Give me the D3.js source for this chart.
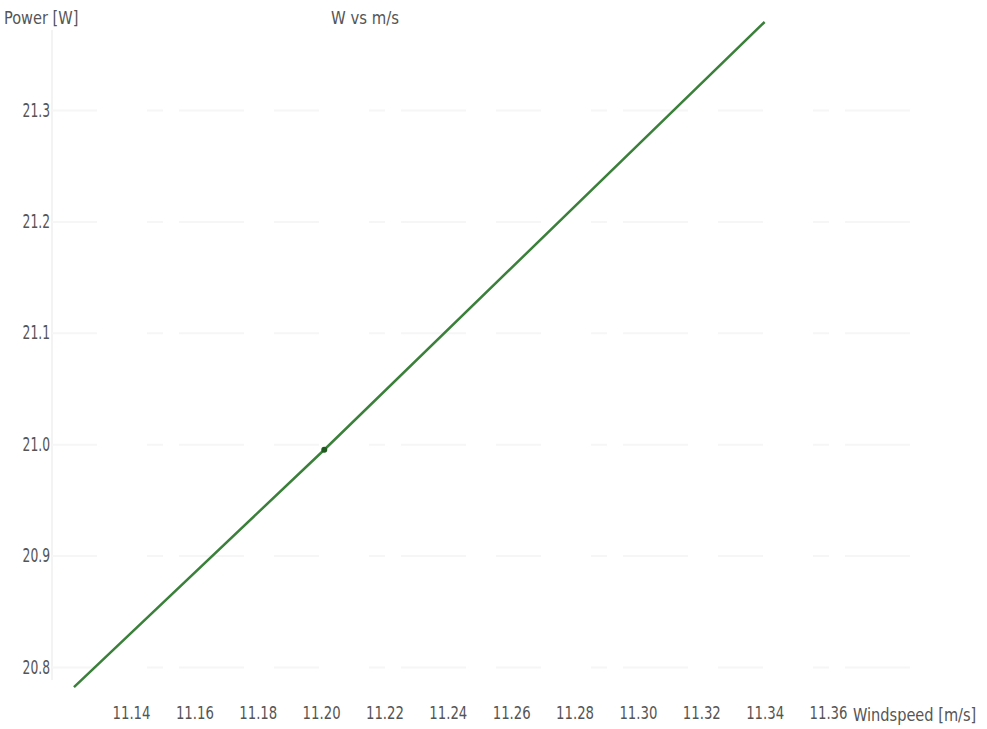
<!DOCTYPE html>
<html lang="en">
<head>
<meta charset="utf-8">
<title>W vs m/s</title>
<script src="https://d3js.org/d3.v7.min.js"></script>
<style>
  body { margin: 0; background: #fff; }
  svg text { font-family: "DejaVu Sans Condensed", "DejaVu Sans", sans-serif; fill: #555; }
</style>
</head>
<body>
<div id="chart"></div>
<script>
	// data
	var windspeed = [11.122, 11.201, 11.340];
	var power = [20.782, 20.995, 21.379];
	var xTicks = [11.14, 11.16, 11.18, 11.20, 11.22, 11.24, 11.26, 11.28, 11.30, 11.32, 11.34, 11.36];
	var yTicks = [20.8, 20.9, 21.0, 21.1, 21.2, 21.3];
	var markedPoint = 1; // only this point shows a dot

	var width = 987, height = 729;
	var svg = d3.select("#chart").append("svg")
		.attr("width", width)
		.attr("height", height);

	var x = d3.scaleLinear().domain([11.14, 11.36]).range([131, 828]);
	var y = d3.scaleLinear().domain([20.8, 21.3]).range([667, 110]);

	// faint y axis line
	svg.append("line")
		.attr("x1", 52).attr("x2", 52)
		.attr("y1", 30).attr("y2", 680)
		.attr("stroke", "#f3f3f3")
		.attr("stroke-width", 2);

	// faint dashed gridlines
	svg.append("g")
		.selectAll("line")
		.data(yTicks)
		.enter()
		.append("line")
		.attr("x1", 52).attr("x2", 912)
		.attr("y1", function(d) { return y(d) + 0.5; })
		.attr("y2", function(d) { return y(d) + 0.5; })
		.attr("stroke", "#f6f6f6")
		.attr("stroke-width", 2)
		.attr("stroke-dasharray", "45,50,16,16,65,30");

	// y axis labels (narrow, tall glyphs as in the picture)
	var yAxis = d3.axisLeft(y).tickValues(yTicks).tickFormat(d3.format(".1f")).tickSize(0).tickPadding(0);
	svg.append("g")
		.attr("transform", "translate(50,0)")
		.call(yAxis)
		.call(function(g) { g.select(".domain").remove(); })
		.selectAll("text")
		.attr("font-size", 19)
		.attr("font-family", null)
		.attr("transform", "scale(0.72,1)");

	// x axis labels
	var xAxis = d3.axisBottom(x).tickValues(xTicks).tickFormat(d3.format(".2f")).tickSize(0).tickPadding(0);
	svg.append("g")
		.attr("transform", "translate(0,706)")
		.call(xAxis)
		.call(function(g) { g.select(".domain").remove(); })
		.selectAll("text")
		.attr("font-size", 18)
		.attr("font-family", null)
		.attr("transform", "scale(0.82,1)");

	svg.append("text")
		.attr("transform", "translate(853,721) scale(0.9,1)")
		.attr("font-size", 18)
		.text("Windspeed [m/s]");

	svg.append("text")
		.attr("transform", "translate(4,24) scale(0.9,1)")
		.attr("font-size", 18)
		.text("Power [W]");

	svg.append("text")
		.attr("transform", "translate(331,24) scale(0.92,1)")
		.attr("font-size", 18)
		.text("W vs m/s");

	// the series
	var pts = windspeed.map(function(v, i) { return [v, power[i]]; });
	var line = d3.line()
		.x(function(d) { return x(d[0]); })
		.y(function(d) { return y(d[1]); });

	svg.append("path")
		.datum(pts)
		.attr("d", line)
		.attr("fill", "none")
		.attr("stroke", "#3a7f3a")
		.attr("stroke-width", 2.5);

	svg.append("circle")
		.attr("cx", x(pts[markedPoint][0]))
		.attr("cy", y(pts[markedPoint][1]))
		.attr("r", 3)
		.attr("fill", "#1f5a1f");
</script>
</body>
</html>
